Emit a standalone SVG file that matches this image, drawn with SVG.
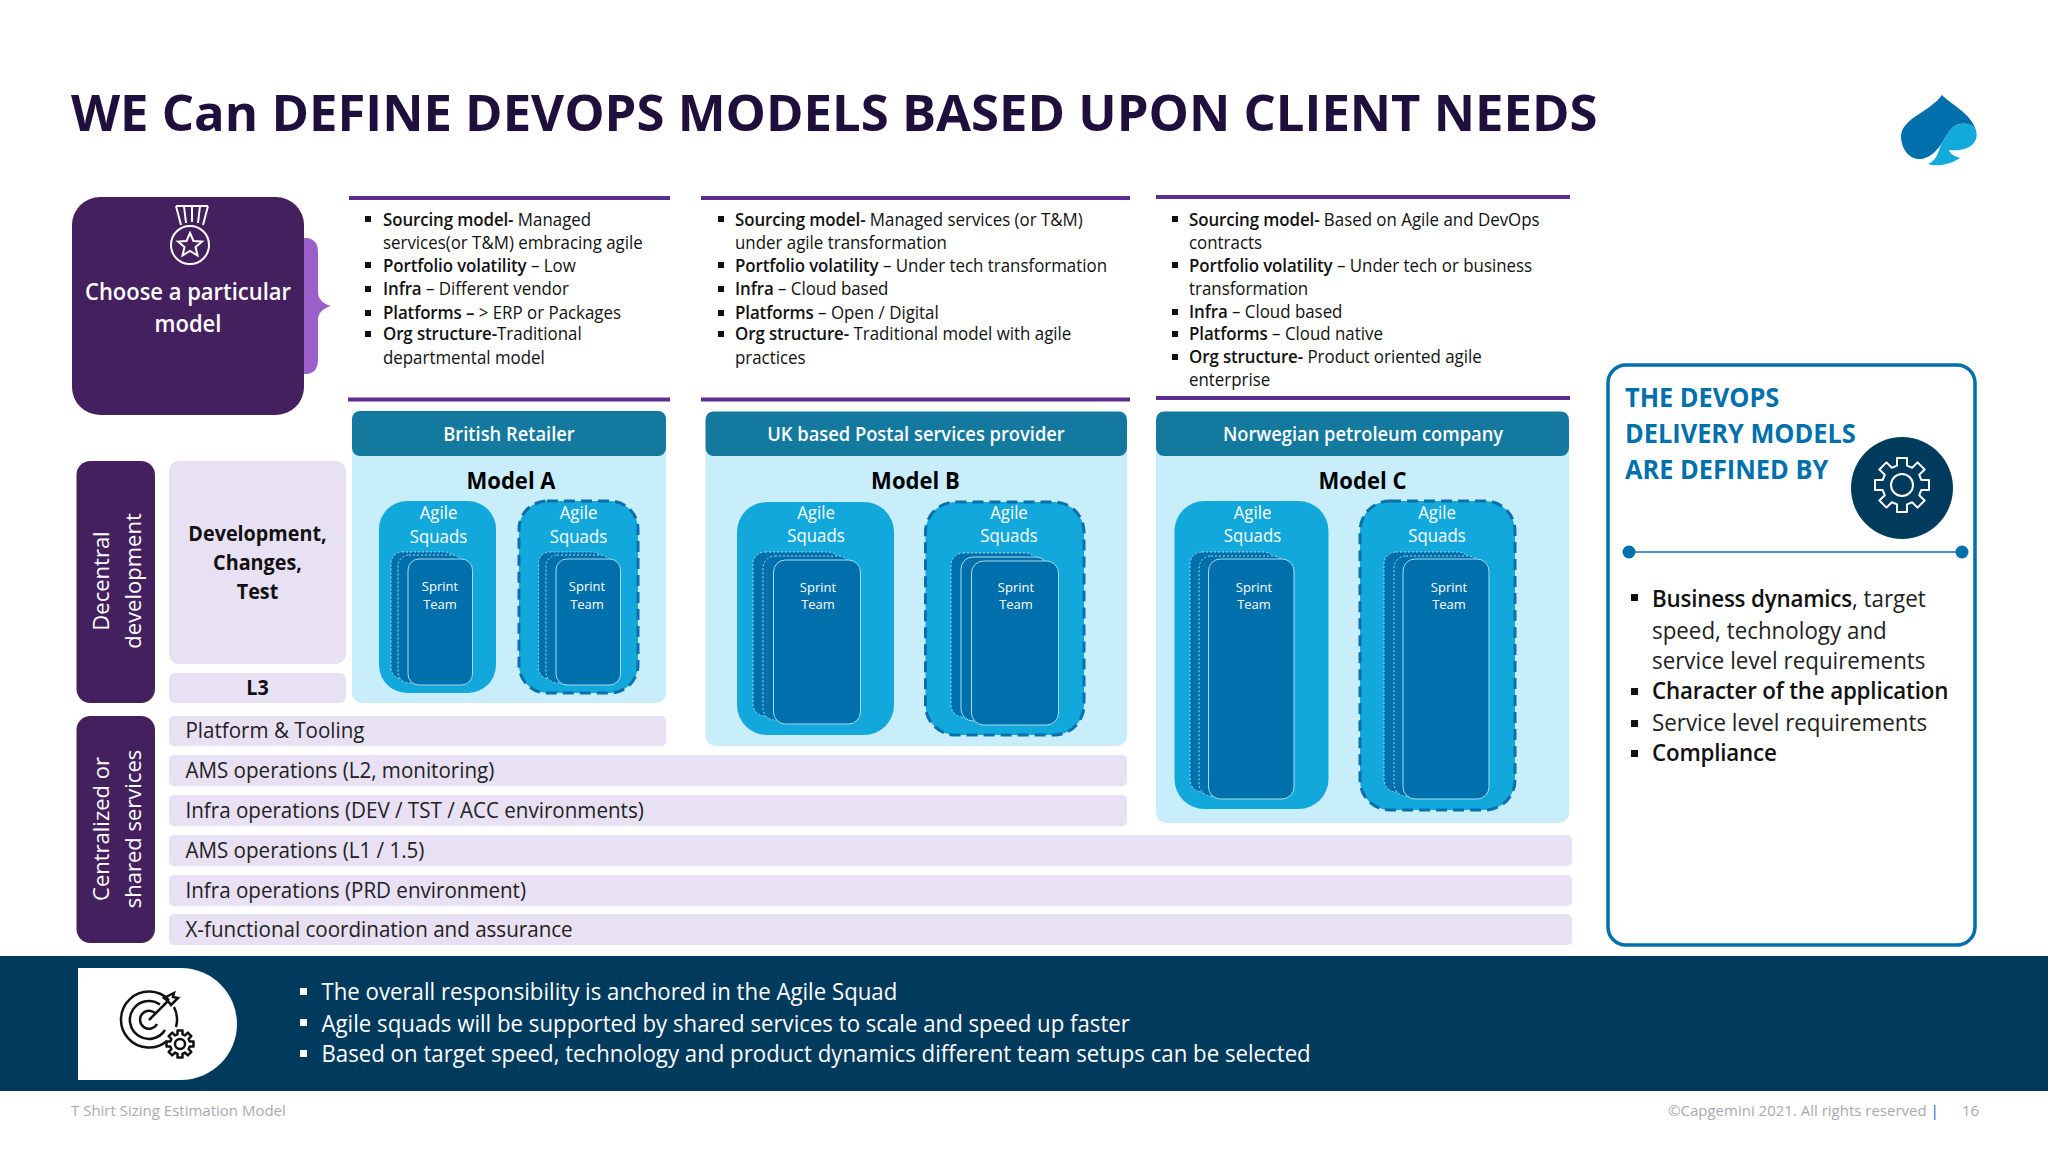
<svg xmlns="http://www.w3.org/2000/svg" xmlns:xlink="http://www.w3.org/1999/xlink" width="2048" height="1152" viewBox="0 0 2048 1152">
<style>
text{font-family:"Open Sans","Noto Sans","Liberation Sans",sans-serif;transform-box:fill-box;transform-origin:0 50%;}
.pur{fill:#45205f}
.lil{fill:#e8e0f3}
.hdr{fill:#14799f}
.bod{fill:#c9eefb}
.sq{fill:#12a8dc}
.sqd{fill:#12a8dc;stroke:#0a70ad;stroke-width:3;stroke-dasharray:11 6}
.st{fill:#0070ad;stroke:#a5dcf2;stroke-width:1}
.stb{fill:#0070ad;stroke:#a5dcf2;stroke-width:1;stroke-dasharray:2 2}
.rule{stroke:#5d2d91;stroke-width:4}
.b{font-size:17.5px;fill:#111;transform:scaleX(.965)}
.b tspan{font-weight:600;letter-spacing:-.1px}
.bar{font-size:21px;fill:#222;transform:scaleX(.98)}
.ctr{text-anchor:middle;transform-origin:50% 50%}
.hw{font-size:19.5px;font-weight:600;fill:#fff;transform:scaleX(.94)}
.mod{font-size:24px;font-weight:700;fill:#000;transform:scaleX(.92)}
.ch{font-size:23.5px;font-weight:600;fill:#fff;transform:scaleX(.935)}
.ag{font-size:17.5px;fill:#fff;transform:scaleX(.96)}
.sp{font-size:13px;fill:#fff}
.rot{font-size:22px;fill:#fff;transform-box:view-box;transform-origin:0 0}
.dev{font-size:21.5px;font-weight:700;fill:#111;transform:scaleX(.92)}
.r{font-size:23px;fill:#222;transform:scaleX(.972)}
.r tspan{font-weight:600;letter-spacing:-.2px;fill:#111}
.t{font-size:26.5px;font-weight:700;fill:#0070ad;transform:scaleX(.957)}
.w{font-size:23.5px;fill:#fff;transform:scaleX(.946)}
.f{font-size:15px;fill:#a9a9b0}
</style>
<defs>
<polygon id="gear" points="-5,-19.4 -5,-27 5,-27 5,-19.4 10.18,-17.25 15.55,-22.63 22.63,-15.55 17.25,-10.18 19.4,-5 27,-5 27,5 19.4,5 17.25,10.18 22.63,15.55 15.55,22.63 10.18,17.25 5,19.4 5,27 -5,27 -5,19.4 -10.18,17.25 -15.55,22.63 -22.63,15.55 -17.25,10.18 -19.4,5 -27,5 -27,-5 -19.4,-5 -17.25,-10.18 -22.63,-15.55 -15.55,-22.63 -10.18,-17.25" fill="none" stroke-linejoin="round"/>
</defs>
<rect width="2048" height="1152" fill="#fff"/>
<text id="title" x="71" y="131" font-size="50.800" font-weight="700" fill="#1f0f3c">WE Can DEFINE DEVOPS MODELS BASED UPON CLIENT NEEDS</text>
<g id="logo">
<path d="M1942 95C1950 104 1970 112 1976 130C1974 125 1966 123 1960 124C1950 126 1947 136 1942 143C1936 152 1930 157 1922 159C1906 160 1901 145 1901 136C1902 118 1930 112 1942 95Z" fill="#0070ad"/>
<path d="M1976 130C1980 145 1965 152 1950 150C1948 150 1950 155 1960 158C1950 165 1935 167 1928 164C1938 160 1938 150 1942 143C1947 136 1950 126 1960 124C1966 123 1974 125 1976 130Z" fill="#12abdb"/>
</g>
<g id="choose-model">
<path d="M304 238h4q10 2 10 14v40q0 10 13 14q-13 4-13 14v40q0 12-10 14h-4z" fill="#9b5fc9"/>
<rect x="72" y="197" width="232" height="218" rx="28" class="pur"/>
<g fill="none" stroke="#fff" stroke-width="2">
<path d="M176 206h32M176 206l5 19M208 206l-5 19M184 206l2 17M192 206v16M200 206l-2 17"/>
<circle cx="190" cy="245" r="19"/>
<polygon points="190,233 193.5,241 202,241.500 195.500,247 197.500,255.500 190,251 182.500,255.500 184.500,247 178,241.500 186.500,241"/>
</g>
<text x="188" y="300" class="ctr ch">Choose a particular</text>
<text x="188" y="332" class="ctr ch">model</text>
</g>
<g id="text-a">
<path class="rule" d="M349 198H670M348 399.500H670"/>
<g fill="#111"><rect x="365" y="216" width="6" height="6"/><rect x="365" y="262" width="6" height="6"/><rect x="365" y="286" width="6" height="6"/><rect x="365" y="310" width="6" height="6"/><rect x="365" y="331" width="6" height="6"/></g>
<text x="383" y="226" class="b"><tspan>Sourcing model-</tspan> Managed</text>
<text x="383" y="249" class="b">services(or T&amp;M) embracing agile</text>
<text x="383" y="272" class="b"><tspan>Portfolio volatility</tspan> – Low</text>
<text x="383" y="295" class="b"><tspan>Infra</tspan> – Different vendor</text>
<text x="383" y="319" class="b"><tspan>Platforms –</tspan> &gt; ERP or Packages</text>
<text x="383" y="340.500" class="b"><tspan>Org structure-</tspan>Traditional</text>
<text x="383" y="364" class="b">departmental model</text>
</g>
<g id="text-b">
<path class="rule" d="M701 198H1130M701 399.500H1130"/>
<g fill="#111"><rect x="718" y="216" width="6" height="6"/><rect x="718" y="262" width="6" height="6"/><rect x="718" y="286" width="6" height="6"/><rect x="718" y="310" width="6" height="6"/><rect x="718" y="331" width="6" height="6"/></g>
<text x="735" y="226" class="b"><tspan>Sourcing model-</tspan> Managed services (or T&amp;M)</text>
<text x="735" y="249" class="b">under agile transformation</text>
<text x="735" y="272" class="b"><tspan>Portfolio volatility</tspan> – Under tech transformation</text>
<text x="735" y="295" class="b"><tspan>Infra</tspan> – Cloud based</text>
<text x="735" y="319" class="b"><tspan>Platforms</tspan> – Open / Digital</text>
<text x="735" y="340.500" class="b"><tspan>Org structure-</tspan> Traditional model with agile</text>
<text x="735" y="364" class="b">practices</text>
</g>
<g id="text-c">
<path class="rule" d="M1156 197H1570M1156 398H1570"/>
<g fill="#111"><rect x="1172" y="216" width="6" height="6"/><rect x="1172" y="262" width="6" height="6"/><rect x="1172" y="309" width="6" height="6"/><rect x="1172" y="331" width="6" height="6"/><rect x="1172" y="354" width="6" height="6"/></g>
<text x="1189" y="226" class="b"><tspan>Sourcing model-</tspan> Based on Agile and DevOps</text>
<text x="1189" y="249" class="b">contracts</text>
<text x="1189" y="272" class="b"><tspan>Portfolio volatility</tspan> – Under tech or business</text>
<text x="1189" y="295" class="b">transformation</text>
<text x="1189" y="318" class="b"><tspan>Infra</tspan> – Cloud based</text>
<text x="1189" y="340" class="b"><tspan>Platforms</tspan> – Cloud native</text>
<text x="1189" y="363" class="b"><tspan>Org structure-</tspan> Product oriented agile</text>
<text x="1189" y="386" class="b">enterprise</text>
</g>
<g id="model-a">
<rect x="352" y="440" width="314" height="263" rx="10" class="bod"/>
<rect x="352" y="411" width="314" height="45" rx="8" class="hdr"/>
<text x="509" y="441" class="ctr hw">British Retailer</text>
<text x="511" y="489" class="ctr mod">Model A</text>
<rect x="379" y="501" width="117" height="192" rx="28" class="sq"/>
<rect x="519" y="501" width="119" height="192" rx="28" class="sqd"/>
<text x="438.500" y="519" class="ctr ag">Agile</text><text x="438.500" y="543" class="ctr ag">Squads</text>
<text x="578.500" y="519" class="ctr ag">Agile</text><text x="578.500" y="543" class="ctr ag">Squads</text>
<rect x="391" y="552" width="65" height="127" rx="11" class="stb"/><rect x="398" y="555" width="65" height="128" rx="11" class="stb"/><rect x="408" y="559" width="64.500" height="126" rx="11" class="st"/>
<text x="440" y="591" class="ctr sp">Sprint</text><text x="440" y="609" class="ctr sp">Team</text>
<rect x="538.500" y="552" width="65" height="127" rx="11" class="stb"/><rect x="546" y="555" width="65" height="128" rx="11" class="stb"/><rect x="556" y="559" width="64.500" height="126" rx="11" class="st"/>
<text x="587" y="591" class="ctr sp">Sprint</text><text x="587" y="609" class="ctr sp">Team</text>
</g>
<g id="model-b">
<rect x="705.500" y="440" width="421.500" height="306" rx="10" class="bod"/>
<rect x="705.500" y="411.500" width="421.500" height="44.500" rx="8" class="hdr"/>
<text x="916" y="441" class="ctr hw">UK based Postal services provider</text>
<text x="915.500" y="489" class="ctr mod">Model B</text>
<rect x="737" y="502" width="157" height="233" rx="30" class="sq"/>
<rect x="925.500" y="502" width="158.500" height="233" rx="30" class="sqd"/>
<text x="816" y="519" class="ctr ag">Agile</text><text x="816" y="542" class="ctr ag">Squads</text>
<text x="1009" y="519" class="ctr ag">Agile</text><text x="1009" y="542" class="ctr ag">Squads</text>
<rect x="753" y="552" width="87" height="164" rx="12" class="stb"/><rect x="763" y="556" width="87" height="164" rx="12" class="stb"/><rect x="773.500" y="560" width="87" height="164" rx="12" class="st"/>
<text x="818" y="592" class="ctr sp">Sprint</text><text x="818" y="609" class="ctr sp">Team</text>
<rect x="951" y="553" width="87" height="164" rx="12" class="stb"/><rect x="961" y="557" width="87" height="164" rx="12" class="st"/><rect x="971.500" y="561" width="87" height="164" rx="12" class="st"/>
<text x="1016" y="592" class="ctr sp">Sprint</text><text x="1016" y="609" class="ctr sp">Team</text>
</g>
<g id="model-c">
<rect x="1156" y="440" width="413" height="383" rx="10" class="bod"/>
<rect x="1156" y="411.500" width="413" height="44.500" rx="8" class="hdr"/>
<text x="1363" y="441" class="ctr hw">Norwegian petroleum company</text>
<text x="1362.500" y="489" class="ctr mod">Model C</text>
<rect x="1174.500" y="501" width="154" height="308" rx="30" class="sq"/>
<rect x="1360" y="501" width="155" height="309" rx="30" class="sqd"/>
<text x="1252.500" y="519" class="ctr ag">Agile</text><text x="1252.500" y="542" class="ctr ag">Squads</text>
<text x="1437" y="519" class="ctr ag">Agile</text><text x="1437" y="542" class="ctr ag">Squads</text>
<rect x="1190" y="552" width="86" height="240" rx="12" class="stb"/><rect x="1199" y="556" width="86" height="240" rx="12" class="stb"/><rect x="1208.500" y="559" width="85.500" height="240" rx="12" class="st"/>
<text x="1254" y="592" class="ctr sp">Sprint</text><text x="1254" y="609" class="ctr sp">Team</text>
<rect x="1384" y="552" width="86" height="240" rx="12" class="stb"/><rect x="1394" y="556" width="86" height="240" rx="12" class="stb"/><rect x="1403" y="559" width="86" height="240" rx="12" class="st"/>
<text x="1449" y="592" class="ctr sp">Sprint</text><text x="1449" y="609" class="ctr sp">Team</text>
</g>
<g id="decentral">
<rect x="76.500" y="461" width="78.500" height="242" rx="14" class="pur"/>
<text transform="translate(109 581) rotate(-90)" class="ctr rot">Decentral</text>
<text transform="translate(141 581) rotate(-90)" class="ctr rot">development</text>
</g>
<g id="dev-changes-test">
<rect x="169" y="461" width="177" height="203" rx="10" class="lil"/>
<text x="257.500" y="541" class="ctr dev">Development,</text>
<text x="257.500" y="570" class="ctr dev">Changes,</text>
<text x="257.500" y="599" class="ctr dev">Test</text>
</g>
<g id="l3"><rect x="169" y="673" width="177" height="30" rx="6" class="lil"/><text x="257.500" y="695" class="ctr dev" font-size="20">L3</text></g>
<g id="centralized">
<rect x="76.500" y="716" width="78.500" height="227" rx="14" class="pur"/>
<text transform="translate(109 829) rotate(-90)" class="ctr rot">Centralized or</text>
<text transform="translate(141 829) rotate(-90)" class="ctr rot">shared services</text>
</g>
<g id="platform"><rect x="169" y="716" width="497" height="30" rx="5" class="lil"/><text x="185.500" y="738" class="bar">Platform &amp; Tooling</text></g>
<g id="ams-l2"><rect x="169" y="755" width="958" height="31" rx="5" class="lil"/><text x="185.500" y="778" class="bar">AMS operations (L2, monitoring)</text></g>
<g id="infra-dev"><rect x="169" y="795" width="958" height="31" rx="5" class="lil"/><text x="185.500" y="818" class="bar">Infra operations (DEV / TST / ACC environments)</text></g>
<g id="ams-l1"><rect x="169" y="835" width="1403" height="31" rx="5" class="lil"/><text x="185.500" y="858" class="bar">AMS operations (L1 / 1.5)</text></g>
<g id="infra-prd"><rect x="169" y="875" width="1403" height="31" rx="5" class="lil"/><text x="185.500" y="898" class="bar">Infra operations (PRD environment)</text></g>
<g id="x-functional"><rect x="169" y="914" width="1403" height="31" rx="5" class="lil"/><text x="185.500" y="937" class="bar">X-functional coordination and assurance</text></g>
<g id="defined-by">
<rect x="1608" y="365" width="367" height="580" rx="18" fill="#fff" stroke="#0070ad" stroke-width="3.500"/>
<text x="1625" y="407" class="t">THE DEVOPS</text>
<text x="1625" y="443" class="t">DELIVERY MODELS</text>
<text x="1625" y="479" class="t">ARE DEFINED BY</text>
<circle cx="1902" cy="488" r="51" fill="#003a5d"/>
<use xlink:href="#gear" href="#gear" transform="translate(1902 485)" stroke="#fff" stroke-width="2"/>
<circle cx="1902" cy="485" r="11" fill="none" stroke="#fff" stroke-width="2"/>
<path d="M1629 552H1962" stroke="#4b94c3" stroke-width="2"/>
<circle cx="1629" cy="552" r="6.500" fill="#0070ad"/><circle cx="1962" cy="552" r="6.500" fill="#0070ad"/>
<g fill="#111"><rect x="1631" y="594" width="7" height="7"/><rect x="1631" y="688" width="7" height="7"/><rect x="1631" y="720" width="7" height="7"/><rect x="1631" y="750" width="7" height="7"/></g>
<text x="1652" y="607" class="r"><tspan>Business dynamics</tspan>, target</text>
<text x="1652" y="639" class="r">speed, technology and</text>
<text x="1652" y="669" class="r">service level requirements</text>
<text x="1652" y="699" class="r"><tspan>Character of the application</tspan></text>
<text x="1652" y="731" class="r">Service level requirements</text>
<text x="1652" y="761" class="r"><tspan>Compliance</tspan></text>
</g>
<g id="summary-band">
<rect x="0" y="956" width="2048" height="135" fill="#003a5d"/>
<path d="M78 968H181A56 56 0 0 1 181 1080H78Z" fill="#fff"/>
<g fill="none" stroke="#111" stroke-width="2.500">
<path d="M169 1000A28 28 0 1 0 167 1041M174 1007A28 28 0 0 1 176 1027"/>
<path d="M160 1004.500A19 19 0 1 0 165 1030"/>
<path d="M155 1013A9 9 0 1 0 157 1024"/>
<path d="M149 1020L168 1001M164 998L168 1001L171 1005L178 998L173 997L174 993Z"/>
<use xlink:href="#gear" href="#gear" transform="translate(180 1044) scale(.5)" stroke-width="5"/>
<circle cx="180" cy="1044" r="5"/>
</g>
<g fill="#fff"><rect x="300" y="988" width="7" height="7"/><rect x="300" y="1019" width="7" height="7"/><rect x="300" y="1050" width="7" height="7"/></g>
<text x="321.500" y="1000" class="w">The overall responsibility is anchored in the Agile Squad</text>
<text x="321.500" y="1032" class="w">Agile squads will be supported by shared services to scale and speed up faster</text>
<text x="321.500" y="1062" class="w">Based on target speed, technology and product dynamics different team setups can be selected</text>
</g>
<g id="footer">
<text x="71" y="1116" class="f">T Shirt Sizing Estimation Model</text>
<text x="1668" y="1116" class="f">©Capgemini 2021. All rights reserved <tspan fill="#0070ad">|</tspan></text>
<text x="1962" y="1116" class="f">16</text>
</g>
</svg>
